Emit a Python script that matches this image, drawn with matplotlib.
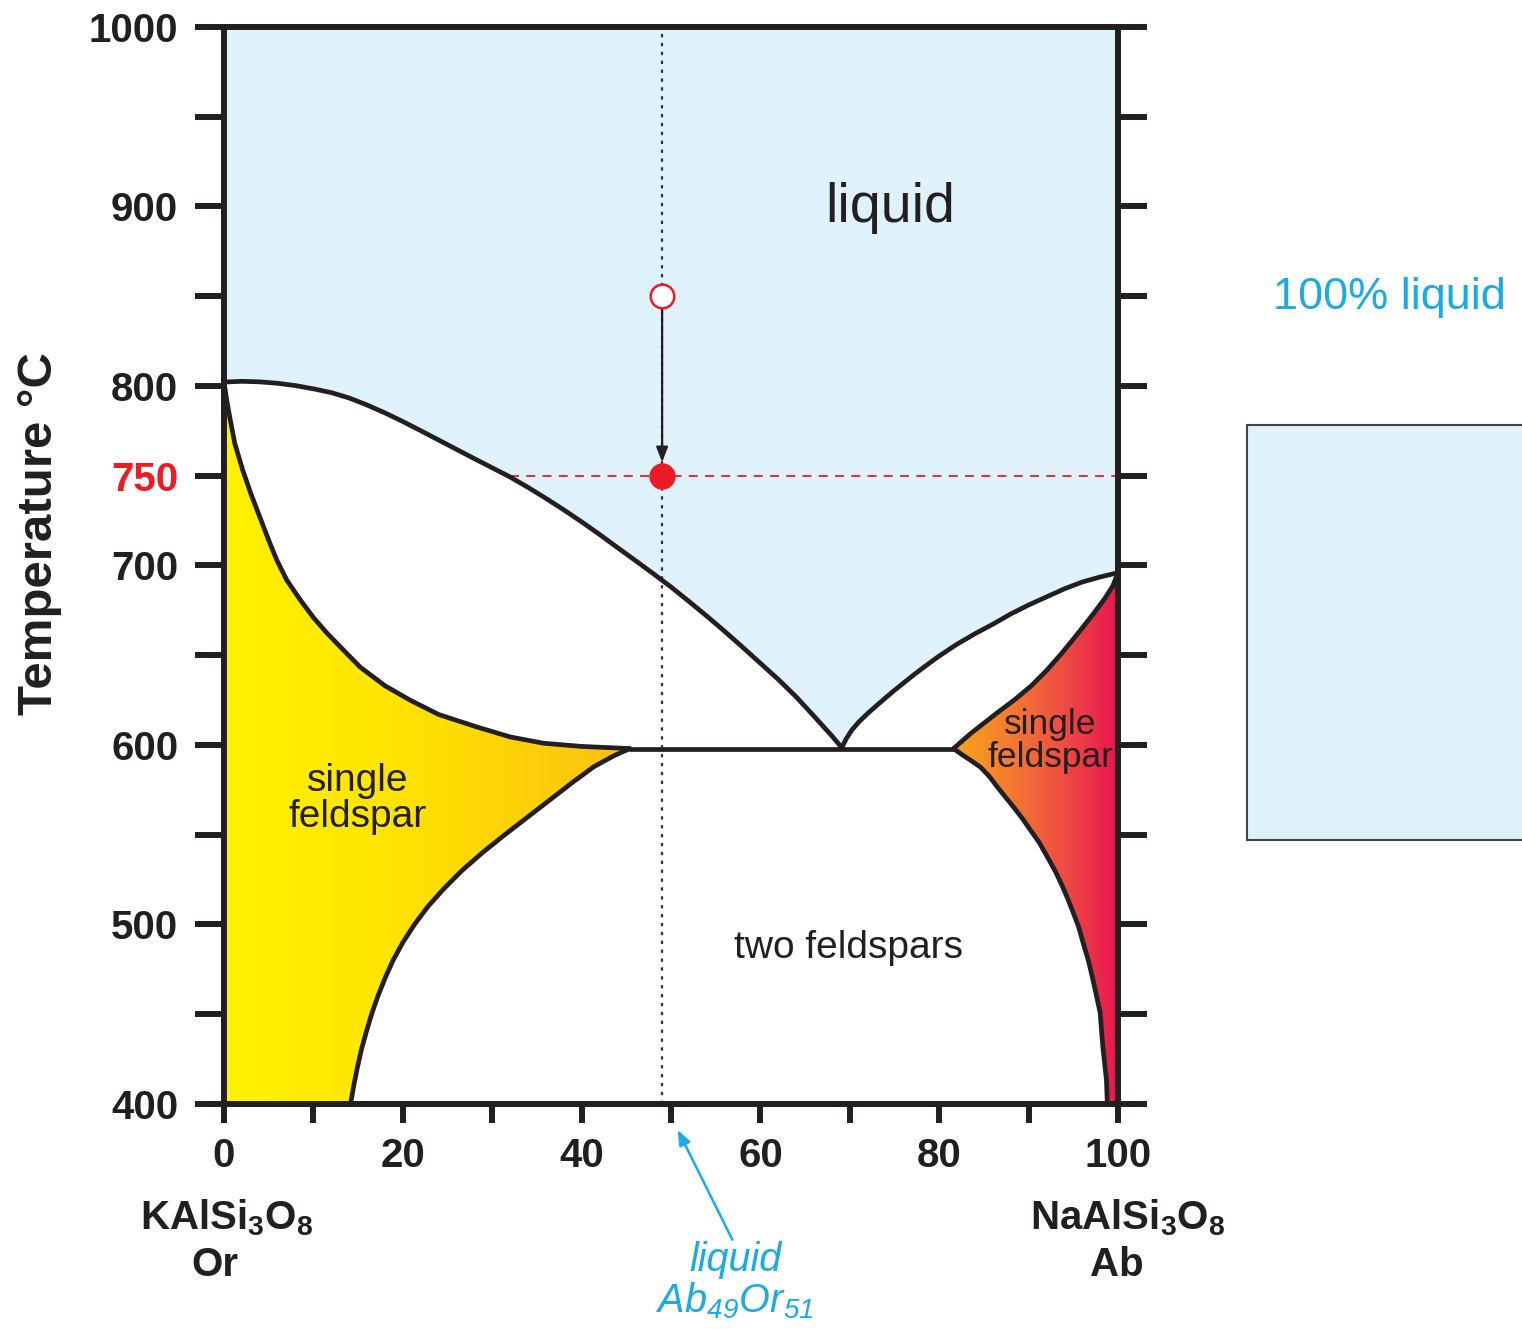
import numpy as np
import matplotlib
matplotlib.use("Agg")
import matplotlib.pyplot as plt
from matplotlib.colors import LinearSegmentedColormap
from matplotlib.patches import Polygon, Rectangle

plt.rcParams['font.family'] = ['Liberation Sans', 'DejaVu Sans']
plt.rcParams['mathtext.default'] = 'regular'

# phase boundaries (x = % Ab, y = deg C)
liq_x = [0, 2, 4, 6, 8, 10, 12, 14, 16, 18, 20, 22, 24, 26, 28, 30, 32, 34, 36, 38,
         40, 42, 44, 46, 48, 50, 52, 54, 56, 58, 60, 62, 64, 66, 67, 68, 69.1,
         69.6, 70.2, 71, 72, 73, 74, 75, 76, 77, 78, 79, 80, 82, 84, 86, 88, 90,
         92, 94, 96, 98, 100]
liq_y = [802.2, 802.6, 802.3, 801.5, 800.2, 798.4, 796.3, 793.3, 789.4, 785, 780.2,
         775.1, 769.9, 764.7, 759.5, 754.4, 749.3, 743.5, 737.4, 731, 724.3, 717.3, 710,
         702.8, 695.5, 688, 680, 671.8, 663.3, 654.5, 645.5, 636.5, 626.8, 616,
         610.5, 605, 598.5, 603.5, 608.2, 612.8, 617.6, 622, 626.3, 630.5, 634.5, 638.5,
         642.3, 646, 649.6, 656.2, 662, 667.3, 673, 678, 682.5, 687, 690.8, 693.6, 696]

sol_left_x = [0, 0.3, 0.7, 1.2, 2.1, 3, 4, 5, 5.9, 7, 8.5, 10, 11.5, 13, 15.2, 18,
              20.8, 24, 28.3, 32, 35.7, 40, 43.2, 45.4]
sol_left_y = [802, 792, 781, 768, 753, 740, 727, 714, 703, 692, 681, 671, 662.4, 654.7,
              643.5, 633, 625, 617, 610, 604.5, 601, 599.2, 598.5, 598]

sol_right_x = [100, 99.4, 98.5, 97.3, 96.2, 95, 93.6, 92, 90.3, 88.5, 86.5, 84.9,
               83.5, 82.5, 81.6]
sol_right_y = [696, 688.5, 681.5, 673.5, 666.5, 659, 650.5, 641.5, 633, 625.5, 618,
               611.8, 606.3, 602, 598]

solv_left_x = [45.4, 43.6, 41.4, 39.2, 36.6, 34.0, 31.4, 28.9, 26.6, 24.6, 22.8, 21.3,
               20.0, 18.9, 18.0, 17.2, 16.5, 15.9, 15.35, 14.9, 14.5, 14.15]
solv_left_y = [598, 594, 588, 580, 570, 560, 550, 540, 530, 520, 510, 500,
               490, 480, 470, 460, 450, 440, 430, 420, 410, 400]

solv_right_x = [81.6, 82.5, 83.5, 84.6, 85.6, 86.5, 87.4, 88.3, 89.3, 90.2, 91.2, 92.1,
                93, 93.8, 94.4, 95, 95.6, 96.1, 96.7, 97.2, 97.6, 98, 98.15, 98.3,
                98.5, 98.7, 98.8]
solv_right_y = [598, 594.8, 591.5, 587.7, 582.5, 576.6, 571, 565.5, 559, 552.6, 545.5,
                537.6, 529.5, 521, 514, 506.4, 498.5, 489.7, 479.5, 469, 460, 450.7,
                441, 431.8, 422.5, 413.4, 400]

eutectic_x = [45.4, 81.6]
eutectic_y = [598, 598]

bulk_x = 49
start_temp = 850
end_temp = 750
liquidus_at_750 = 32

yticks = [400, 450, 500, 550, 600, 650, 700, 750, 800, 850, 900, 950, 1000]
ytick_labels = ['400', '', '500', '', '600', '', '700', '750', '800', '', '900', '', '1000']
xticks = [0, 10, 20, 30, 40, 50, 60, 70, 80, 90, 100]
xtick_labels = ['0', '', '20', '', '40', '', '60', '', '80', '', '100']

ink = '#231f20'
red = '#ed1c24'
cyan = '#1aaae6'
liquid_blue = '#dff1fb'

fig = plt.figure(figsize=(15.22, 13.29), dpi=100)
ax = fig.add_axes([0.1472, 0.1693, 0.5874, 0.8104])

# liquid field
liq_poly = list(zip(liq_x, liq_y)) + [(100, 1000), (0, 1000)]
ax.add_patch(Polygon(liq_poly, closed=True, facecolor=liquid_blue, edgecolor='none', zorder=0))

# single feldspar fields with gradient
feld_cmap = LinearSegmentedColormap.from_list('feld', [
    (0.0, '#fff200'), (0.2, '#ffe300'), (0.45, '#fcc010'), (0.82, '#f9a41c'),
    (0.88, '#f47a30'), (0.94, '#ee4c44'), (1.0, '#e8164f')])
left_poly = list(zip(sol_left_x, sol_left_y)) + list(zip(solv_left_x, solv_left_y))[1:] + [(0, 400)]
right_poly = list(zip(sol_right_x, sol_right_y)) + list(zip(solv_right_x, solv_right_y))[1:] + [(100, 400)]
grad = np.linspace(0, 1, 512).reshape(1, -1)
for pts in (left_poly, right_poly):
    clip = Polygon(pts, closed=True, transform=ax.transData)
    im = ax.imshow(grad, cmap=feld_cmap, extent=[0, 100, 400, 1000], aspect='auto',
                   interpolation='bilinear', zorder=1)
    im.set_clip_path(clip)

# boundary lines
for xs, ys in [(liq_x, liq_y), (sol_left_x, sol_left_y), (sol_right_x, sol_right_y),
               (solv_left_x, solv_left_y), (solv_right_x, solv_right_y), (eutectic_x, eutectic_y)]:
    ax.plot(xs, ys, color=ink, lw=3.4, solid_joinstyle='round', solid_capstyle='round', zorder=3)

# bulk composition path
ax.plot([bulk_x, bulk_x], [400, 1000], color='#333333', lw=1.6, ls=(0, (1.5, 2.5)), zorder=2)
ax.plot([liquidus_at_750, 100], [end_temp, end_temp], color=red, lw=1.3, ls=(0, (5, 4)), zorder=2)
ax.annotate('', xy=(bulk_x, end_temp + 6), xytext=(bulk_x, start_temp - 5),
            arrowprops=dict(arrowstyle='-|>,head_length=0.9,head_width=0.35', color=ink, lw=1.6),
            zorder=4)
ax.plot(bulk_x, start_temp, 'o', ms=17, mfc='white', mec=red, mew=1.8, zorder=5)
ax.plot(bulk_x, end_temp, 'o', ms=18, mfc=red, mec=red, zorder=5)

# field labels
ax.text(74.5, 899, 'liquid', fontsize=40, color=ink, ha='center', va='center', zorder=6)
ax.text(14.9, 570, 'single\nfeldspar', fontsize=28, color=ink, ha='center', va='center',
        linespacing=1.0, zorder=6)
ax.text(92.4, 602, 'single\nfeldspar', fontsize=25.5, color=ink, ha='center', va='center',
        linespacing=1.0, zorder=6)
ax.text(69.8, 487, 'two feldspars', fontsize=28, color=ink, ha='center', va='center', zorder=6)

# axes styling
ax.set_xlim(0, 100)
ax.set_ylim(400, 1000)
for side in ['left', 'right', 'top', 'bottom']:
    ax.spines[side].set_linewidth(4.3)
    ax.spines[side].set_color(ink)
    ax.spines[side].set_zorder(7)
ax.set_xticks(xticks)
ax.set_xticklabels(xtick_labels, fontsize=29, fontweight='bold', color=ink)
ax.set_yticks(yticks)
ax.set_yticklabels(ytick_labels, fontsize=29, fontweight='bold', color=ink)
ax.get_yticklabels()[ytick_labels.index('750')].set_color(red)
ax.tick_params(axis='y', direction='out', length=21, width=4.3, color=ink,
               left=True, right=True, pad=12)
ax.tick_params(axis='x', direction='out', length=14, width=4.3, color=ink,
               bottom=True, top=False, pad=10)
ax.set_ylabel('Temperature °C', fontsize=35.5, fontweight='bold', color=ink)
ax.yaxis.set_label_coords(-0.181, 0.53)

# end member labels
fig.text(0.149, 0.0835, r'KAlSi$_{3}$O$_{8}$', fontsize=29, fontweight='bold', color=ink,
         ha='center', va='center')
fig.text(0.141, 0.048, 'Or', fontsize=29, fontweight='bold', color=ink, ha='center', va='center')
fig.text(0.741, 0.0835, r'NaAlSi$_{3}$O$_{8}$', fontsize=29, fontweight='bold', color=ink,
         ha='center', va='center')
fig.text(0.734, 0.048, 'Ab', fontsize=29, fontweight='bold', color=ink, ha='center', va='center')

# liquid composition call-out
ax.annotate('', xy=(50.6, 387), xytext=(57.0, 323), annotation_clip=False,
            arrowprops=dict(arrowstyle='-|>,head_length=0.9,head_width=0.35', color=cyan, lw=1.8))
fig.text(0.483, 0.052, 'liquid', fontsize=28.5, style='italic', color=cyan, ha='center', va='center')
fig.text(0.483, 0.021, r'Ab$_{49}$Or$_{51}$', fontsize=28.5, style='italic', color=cyan,
         ha='center', va='center')

# side legend box
fig.text(0.9126, 0.7758, '100% liquid', fontsize=32.5, color=cyan, ha='center', va='center')
fig.patches.append(Rectangle((0.8193, 0.3679), 0.3, 0.3123, transform=fig.transFigure,
                             facecolor=liquid_blue, edgecolor='#444444', lw=1.5))

fig.savefig('out.png', dpi=100)
